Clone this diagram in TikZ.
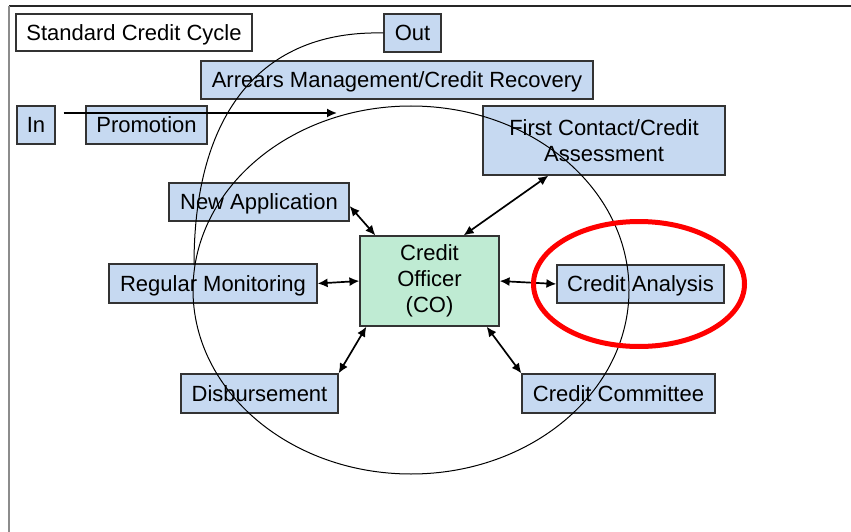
\documentclass[tikz,border=0pt]{standalone}
\usepackage{fontspec}
\setmainfont{Liberation Sans}
\usetikzlibrary{arrows.meta}
\definecolor{boxblue}{HTML}{C6D9F1}
\definecolor{boxgreen}{HTML}{BFEBD3}
\definecolor{framegray}{HTML}{8C8C8C}
\definecolor{ringred}{HTML}{FF0000}
\begin{document}
\begin{tikzpicture}[x=1pt,y=-1pt,
  box/.style={draw=black!80, line width=1.2pt, fill=boxblue, inner sep=0pt, align=center,
    font=\fontsize{22}{26}\selectfont},
  oneline/.style={text height=15.8pt, text depth=0pt},
  cobox/.style={box, fill=boxgreen},
  titlebox/.style={box, oneline, fill=white},
  link/.style={line width=1.7pt, {Latex[length=10pt,width=9pt]}-{Latex[length=10pt,width=9pt]}},
  feed/.style={line width=1.7pt, -{Latex[length=10pt,width=9pt]}},
  ring/.style={line width=1pt},
  redring/.style={ringred, line width=5pt}
]
\useasboundingbox (0,0) rectangle (851,532);
% frame
\draw[black!85, line width=1.5pt] (9,6) -- (851,6);
\draw[framegray, line width=2pt] (9,6) -- (9,532);

% nodes
\node[titlebox, minimum width=236pt, minimum height=37pt] (title) at (134,32.5) {Standard Credit Cycle};
\node[box, oneline, minimum width=57pt, minimum height=38pt] (out) at (412.5,33) {Out};
\node[box, oneline, minimum width=392pt, minimum height=38pt] (arrears) at (397,80) {Arrears Management/Credit Recovery};
\node[box, oneline, minimum width=38pt, minimum height=38pt] (in) at (36,125) {In};
\node[box, oneline, minimum width=121pt, minimum height=38pt] (promo) at (146.5,125) {Promotion};
\node[box, minimum width=242pt, minimum height=69pt] (first) at (604,140.5) {First Contact/Credit\\Assessment};
\node[box, oneline, minimum width=180pt, minimum height=38pt] (newapp) at (259,202) {New Application};
\node[box, oneline, minimum width=208pt, minimum height=39pt] (regmon) at (213,283.5) {Regular Monitoring};
\node[cobox, minimum width=139pt, minimum height=90pt] (co) at (429.5,281) {Credit\\Officer\\(CO)};
\node[box, oneline, minimum width=157pt, minimum height=39pt] (disb) at (259.5,393.5) {Disbursement};
\node[box, oneline, minimum width=167pt, minimum height=38pt] (ca) at (640.5,284) {Credit Analysis};
\node[box, oneline, minimum width=193pt, minimum height=39pt] (cc) at (618.5,393.5) {Credit Committee};

% cycle ellipse and exit arc
\draw[ring] (411,290) ellipse [x radius=218pt, y radius=184pt];
\coordinate (exitpt) at (194,265);
\draw[ring] (exitpt) .. controls (194,112) and (262,30) .. (out.west);

% entry arrow
\coordinate (cyclein) at (337,113);
\draw[feed] ([shift={(8pt,12pt)}]in.east) -- (cyclein);

% links to credit officer
\draw[link] ([yshift=-4pt]newapp.east) -- ([xshift=16pt]co.north west);
\draw[link] (regmon.east) -- (co.west);
\draw[link] (disb.north east) -- ([xshift=7pt]co.south west);
\draw[link] ([xshift=-36pt]co.north east) -- ([xshift=66pt]first.south west);
\draw[link] (co.east) -- (ca.west);
\draw[link] ([xshift=-13pt]co.south east) -- (cc.north west);

% highlight
\draw[redring] (639,284) ellipse [x radius=105.5pt, y radius=62.5pt];
\end{tikzpicture}
\end{document}
